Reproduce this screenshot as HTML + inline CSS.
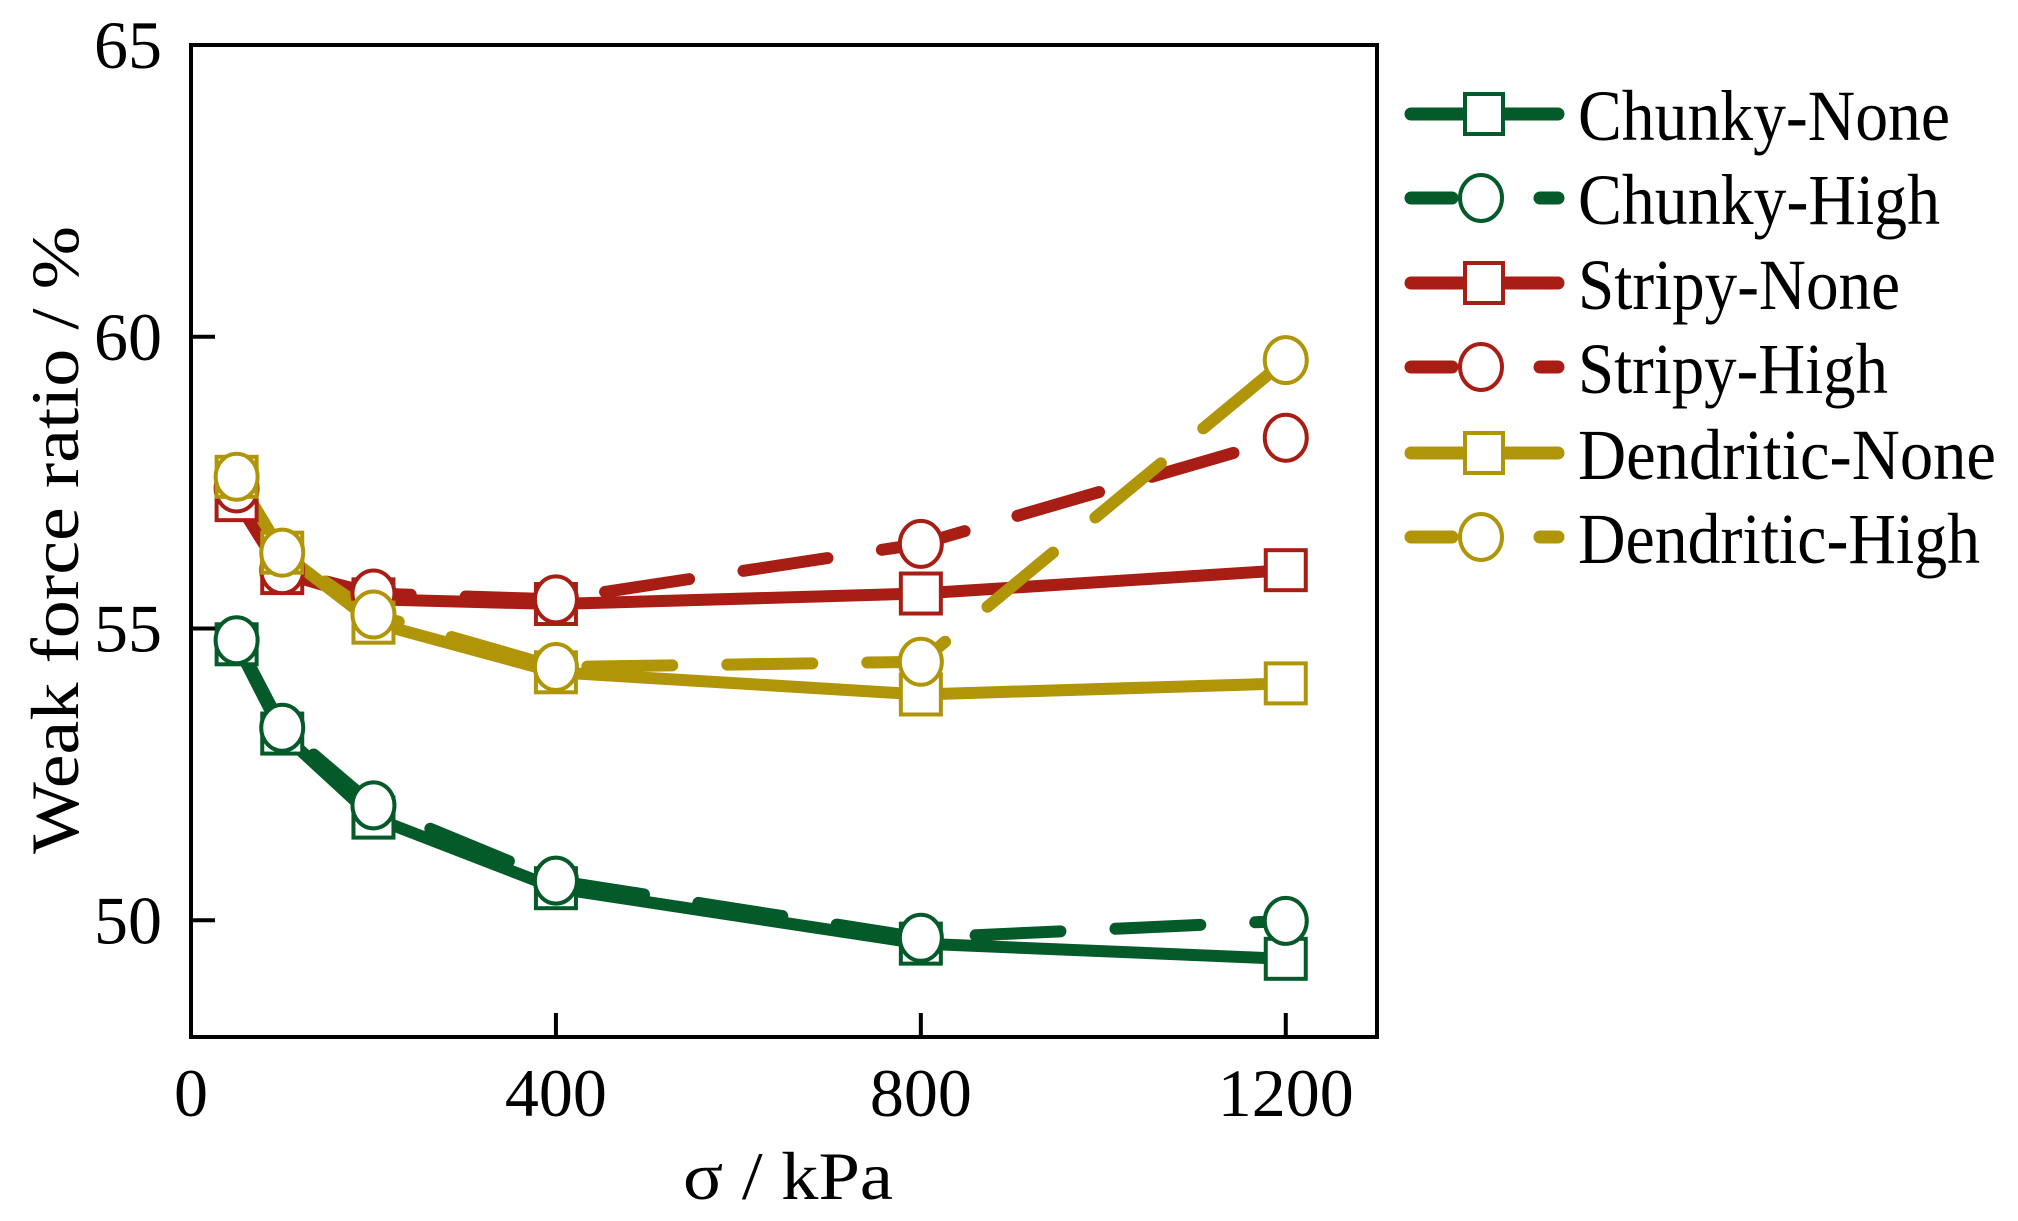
<!DOCTYPE html>
<html><head><meta charset="utf-8"><style>
html,body{margin:0;padding:0;background:#fff;}
svg{display:block;}
text{font-family:"Liberation Serif",serif;fill:#000;}
</style></head><body>
<svg id="chart" width="2018" height="1221" viewBox="0 0 2018 1221">
<g id="plot"></g>
<g id="axes"></g>
<g id="legend"></g>
</svg>
<script>
const xValues = [50, 100, 200, 400, 800, 1200];
const chunkyNone = [54.73, 53.2, 51.76, 50.55, 49.6, 49.34];
const chunkyHigh = [54.8, 53.3, 51.97, 50.68, 49.7, 49.99];
const stripyNone = [57.2, 55.95, 55.5, 55.42, 55.6, 56.0];
const stripyHigh = [57.4, 56.0, 55.6, 55.5, 56.45, 58.27];
const dendriticNone = [57.6, 56.3, 55.1, 54.25, 53.87, 54.06];
const dendriticHigh = [57.6, 56.3, 55.24, 54.34, 54.43, 59.6];
const xTicks = [0, 400, 800, 1200];
const yTicks = [50, 55, 60, 65];
const seriesNames = ["Chunky-None","Chunky-High","Stripy-None","Stripy-High","Dendritic-None","Dendritic-High"];

const NS = "http://www.w3.org/2000/svg";
const L = 191, R = 1377, T = 45, B = 1037;
const X0 = 0, X1 = 1300, Y0 = 48, Y1 = 65;
const xS = v => L + (v - X0) / (X1 - X0) * (R - L);
const yS = v => B - (v - Y0) / (Y1 - Y0) * (B - T);
const GREEN = "#045a29", RED = "#a81e14", OLIVE = "#b09508";
function mk(tag, attrs, parent) {
  const e = document.createElementNS(NS, tag);
  for (const k in attrs) e.setAttribute(k, attrs[k]);
  parent.appendChild(e);
  return e;
}
const plot = document.getElementById('plot');
const axes = document.getElementById('axes');
const legend = document.getElementById('legend');

const series = [
  {vals: chunkyNone, color: GREEN, dash: false, marker: 'square', key: 'chunky-none'},
  {vals: chunkyHigh, color: GREEN, dash: true, marker: 'circle', key: 'chunky-high'},
  {vals: stripyNone, color: RED, dash: false, marker: 'square', key: 'stripy-none'},
  {vals: stripyHigh, color: RED, dash: true, marker: 'circle', key: 'stripy-high'},
  {vals: dendriticNone, color: OLIVE, dash: false, marker: 'square', key: 'dendritic-none'},
  {vals: dendriticHigh, color: OLIVE, dash: true, marker: 'circle', key: 'dendritic-high'}
];

function drawMarker(type, cx, cy, color, parent) {
  let m;
  if (type === 'square') {
    m = mk('rect', {x: cx - 20, y: cy - 20, width: 40, height: 40, fill: '#fff', stroke: color, 'stroke-width': 4}, parent);
  } else {
    m = mk('ellipse', {cx: cx, cy: cy, rx: 21, ry: 23, fill: '#fff', stroke: color, 'stroke-width': 4}, parent);
  }
  return m;
}

series.forEach(s => {
  const pts = xValues.map((x, i) => xS(x) + ',' + yS(s.vals[i])).join(' ');
  const pl = mk('polyline', {points: pts, fill: 'none', stroke: s.color, 'stroke-width': 12, 'stroke-linejoin': 'round', 'stroke-linecap': 'round'}, plot);
  if (s.dash) pl.setAttribute('stroke-dasharray', '85 55');
  
  
});
series.forEach(s => {
  xValues.forEach((x, i) => {
    const m = drawMarker(s.marker, xS(x), yS(s.vals[i]), s.color, plot);
    
    
  });
});

const fr = mk('rect', {x: L, y: T, width: R - L, height: B - T, fill: 'none', stroke: '#000', 'stroke-width': 4}, axes);



yTicks.forEach(v => {
  const y = yS(v);
  if (v < 65) {
    const t = mk('line', {x1: L, x2: L + 24, y1: y, y2: y, stroke: '#000', 'stroke-width': 4}, axes);
    
    
  }
  const tx = mk('text', {x: 162, y: y + 23, 'text-anchor': 'end', 'font-size': 68, textLength: 68, lengthAdjust: 'spacingAndGlyphs'}, axes);
  tx.textContent = v;
  
  
});
xTicks.forEach(v => {
  const x = xS(v);
  if (v > 0) {
    const t = mk('line', {x1: x, x2: x, y1: B, y2: B - 24, stroke: '#000', 'stroke-width': 4}, axes);
    
    
  }
  const s = String(v);
  const tx = mk('text', {x: x, y: 1116, 'text-anchor': 'middle', 'font-size': 68, textLength: s.length * 34, lengthAdjust: 'spacingAndGlyphs'}, axes);
  tx.textContent = s;
  
  
});
const xt = mk('text', {x: 788, y: 1199, 'text-anchor': 'middle', 'font-size': 68, textLength: 210, lengthAdjust: 'spacingAndGlyphs'}, axes);
xt.textContent = 'σ / kPa';


const yt = mk('text', {x: 0, y: 0, 'text-anchor': 'middle', 'font-size': 68, textLength: 628, lengthAdjust: 'spacingAndGlyphs', transform: 'translate(78,540) rotate(-90)'}, axes);
yt.textContent = 'Weak force ratio / %';



const rowY = [114, 198, 283, 367, 453, 537];
const textW = [372, 362, 322, 310, 418, 402];
series.forEach((s, i) => {
  const y = rowY[i];
  const g = mk('g', {}, legend);
  
  
  if (s.dash) {
    mk('line', {x1: 1411, x2: 1452, y1: y, y2: y, stroke: s.color, 'stroke-width': 13, 'stroke-linecap': 'round'}, g);
    mk('line', {x1: 1540, x2: 1558, y1: y, y2: y, stroke: s.color, 'stroke-width': 13, 'stroke-linecap': 'round'}, g);
  } else {
    mk('line', {x1: 1411, x2: 1558, y1: y, y2: y, stroke: s.color, 'stroke-width': 13, 'stroke-linecap': 'round'}, g);
  }
  if (s.marker === 'square') mk('rect', {x: 1465, y: y - 20, width: 38, height: 40, fill: '#fff', stroke: s.color, 'stroke-width': 4}, g);
  else mk('ellipse', {cx: 1481, cy: y, rx: 21, ry: 23, fill: '#fff', stroke: s.color, 'stroke-width': 4}, g);
  const t = mk('text', {x: 1578, y: y + 26, 'font-size': 72, textLength: textW[i], lengthAdjust: 'spacingAndGlyphs'}, g);
  t.textContent = seriesNames[i];
});
</script>
</body></html>
